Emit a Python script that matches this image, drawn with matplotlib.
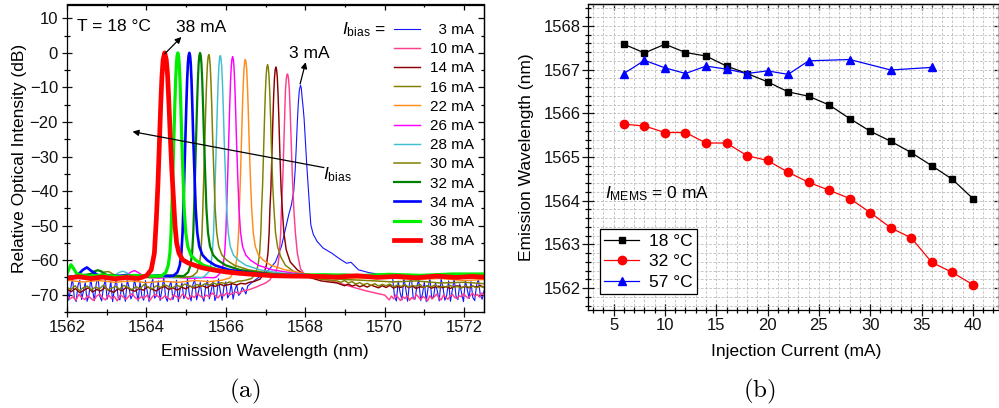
import numpy as np
import matplotlib
matplotlib.use("Agg")
import matplotlib.pyplot as plt
from matplotlib.ticker import MultipleLocator

plt.rcParams['font.family'] = ['Liberation Sans', 'DejaVu Sans']
plt.rcParams['mathtext.fontset'] = 'custom'
plt.rcParams['mathtext.rm'] = 'Liberation Sans'
plt.rcParams['mathtext.it'] = 'Liberation Sans:italic'
plt.rcParams['mathtext.bf'] = 'Liberation Sans:bold'

# ---------------- (a) optical spectra, T = 18 °C ----------------
bias_labels = ['\u20073 mA', '10 mA', '14 mA', '16 mA', '22 mA', '26 mA',
               '28 mA', '30 mA', '32 mA', '34 mA', '36 mA', '38 mA']
bias_colors = ['#1414ff', '#ff3d8e', '#8b0000', '#808000', '#ff8c1a', '#ff00ff',
               '#3fc0d0', '#808000', '#008000', '#0000ff', '#00ee00', '#ff0000']
bias_widths = [0.8, 1.05, 1.05, 1.05, 1.05, 1.05, 1.05, 1.1, 1.6, 1.9, 2.3, 3.4]

# 3 mA
db_3_left = [-66.2, -71.6, -68.4, -65.1, -70.9, -72.0, -67.3, -65.8, -71.4, -69.0,
             -66.5, -71.9, -70.2, -65.4, -68.7, -71.7, -66.9, -64.9, -70.5, -71.8,
             -67.8, -65.6, -71.3, -69.4, -66.1, -72.0, -68.1, -65.3, -70.8, -71.5,
             -66.7, -69.6, -71.9, -65.7, -67.9, -71.2, -70.0, -65.2, -68.9, -71.8,
             -66.3, -70.4, -71.6, -65.9, -69.2, -72.0, -67.1, -65.5, -71.0, -70.3,
             -66.0, -71.7, -68.6, -65.0, -70.7, -71.9, -67.6, -66.2, -71.4, -69.7,
             -65.8, -72.0, -68.3, -66.6, -71.1, -70.1, -65.3, -69.9, -71.8, -67.0,
             -65.6, -71.5, -69.3, -66.4, -70.6, -71.9, -67.4, -65.9, -71.2, -68.8,
             -66.1, -71.7, -70.4, -65.4, -69.1, -71.6, -67.7, -66.3, -70.9, -70.0,
             -66.8, -71.3, -68.5, -67.2, -70.2, -69.6, -67.9, -68.6, -69.8, -67.5]
wl_3_peak = [1566.65, 1566.8, 1566.95, 1567.08, 1567.25, 1567.4, 1567.5, 1567.58, 1567.65, 1567.71,
             1567.745, 1567.77, 1567.80, 1567.825, 1567.85, 1567.88, 1567.90, 1567.92, 1567.945, 1567.97,
             1568.0, 1568.04, 1568.08, 1568.11, 1568.14, 1568.2, 1568.3, 1568.45, 1568.67, 1568.85,
             1569.04, 1569.15, 1569.34, 1569.6, 1569.92, 1570.1]
db_3_peak = [-66.5, -65.2, -64.0, -62.8, -60.5, -56.0, -51.0, -47.0, -44.0, -40.0,
             -34.0, -28.0, -20.0, -14.5, -10.8, -9.4, -10.2, -13.0, -15.7, -19.0,
             -25.0, -33.0, -40.0, -45.0, -49.8, -52.5, -54.6, -56.5, -58.0, -59.5,
             -60.9, -60.6, -62.8, -63.6, -64.2, -64.8]
db_3_right = [-65.2, -70.6, -71.8, -66.1, -69.4, -71.5, -65.0, -68.2, -71.9, -66.8,
              -64.7, -70.9, -71.3, -67.5, -65.6, -71.7, -69.8, -66.3, -72.0, -68.0,
              -65.1, -71.2, -70.4, -66.6, -69.1, -71.8, -65.4, -67.9, -71.6, -70.2,
              -66.0, -71.9, -68.7, -65.3, -70.5, -71.4, -66.9, -69.6, -72.0, -65.8,
              -68.4, -71.1, -66.2, -70.8, -71.7, -67.3, -65.5, -70.1, -71.3, -68.9]

# 10 mA
db_10_left = [-70.3, -71.2, -70.6, -71.6, -69.9, -70.8, -71.4, -70.2, -71.0, -71.7,
              -70.4, -69.8, -70.9, -71.5, -70.1, -71.1, -70.5, -71.8, -70.0, -70.7,
              -71.3, -70.3, -69.7, -70.8, -71.4, -70.6, -71.0, -70.1, -71.6, -70.4,
              -69.9, -70.7, -71.2, -70.3, -70.9, -71.5, -70.0, -70.6, -71.1, -69.8,
              -70.5, -71.3, -70.2, -70.8, -69.6, -70.4, -71.0, -70.1, -70.6, -69.5,
              -70.2, -70.9, -69.8, -70.3, -69.4, -70.0, -69.6, -69.2, -69.7, -69.0]
wl_10_peak = [1566.6, 1566.8, 1567.0, 1567.1, 1567.15, 1567.25, 1567.31, 1567.35, 1567.38, 1567.40,
              1567.435, 1567.46, 1567.48, 1567.50, 1567.52, 1567.535, 1567.55, 1567.565, 1567.58, 1567.60,
              1567.62, 1567.645, 1567.675, 1567.71, 1567.75, 1567.80, 1567.88, 1568.0, 1568.3, 1568.6,
              1568.9, 1569.2, 1569.5, 1569.8]
db_10_peak = [-68.5, -67.6, -66.6, -65.8, -65.0, -63.8, -61.5, -58.0, -52.0, -45.0,
              -36.0, -26.0, -17.0, -11.0, -7.8, -6.5, -6.1, -6.5, -7.8, -11.0,
              -17.0, -26.0, -36.0, -45.0, -52.0, -58.0, -62.5, -64.5, -65.3, -65.8,
              -66.8, -67.8, -68.8, -69.6]
db_10_right = [-70.1, -70.8, -71.5, -70.4, -71.2, -70.0, -70.9, -71.7, -70.6, -71.1,
               -70.2, -71.6, -70.8, -71.3, -69.9, -70.7, -71.4, -70.5, -71.0, -71.8,
               -70.3, -71.2, -70.6, -69.8, -70.9, -71.5, -70.1, -70.7, -71.3, -70.4,
               -69.9, -70.8, -71.1, -70.3, -70.6, -69.7, -70.5, -71.0, -70.2, -69.6,
               -70.4, -69.9, -70.7, -69.5, -70.1]

# 14 mA
db_14_left = [-68.4, -69.1, -68.2, -69.4, -68.7, -68.0, -69.2, -68.5, -68.9, -67.9,
              -68.8, -69.3, -68.3, -68.9, -67.8, -68.6, -69.0, -68.2, -68.7, -67.7,
              -68.4, -68.9, -68.1, -67.6, -68.5, -68.0, -68.7, -67.8, -68.3, -67.5,
              -68.1, -67.7, -67.4, -68.0, -67.2, -67.6, -66.9, -67.4, -67.1, -66.8,
              -67.2, -66.7, -66.9, -66.4, -66.2]
wl_14_peak = [1566.86, 1566.96, 1567.02, 1567.06, 1567.09, 1567.11, 1567.135, 1567.16, 1567.185, 1567.205,
              1567.225, 1567.242, 1567.26, 1567.278, 1567.295, 1567.315, 1567.335, 1567.36, 1567.39, 1567.42,
              1567.46, 1567.52, 1567.62, 1567.80, 1568.05, 1568.4]
db_14_peak = [-65.5, -63.8, -61.5, -58.0, -52.0, -45.0, -39.1, -29.1, -19.1, -12.1,
              -7.1, -4.9, -4.1, -4.9, -7.1, -12.1, -19.1, -29.1, -39.1, -45.0,
              -52.0, -57.0, -60.5, -62.8, -64.8, -66.0]
db_14_right = [-66.6, -67.0, -67.4, -66.9, -67.5, -67.1, -67.7, -67.3, -67.8, -67.2,
               -67.6, -68.0, -67.4, -67.9, -67.3, -68.1, -67.6, -67.9, -67.2, -68.0,
               -67.5, -68.2, -67.7, -67.9, -67.4, -68.1, -67.8, -67.5, -68.0, -67.6,
               -68.2, -67.7, -67.4, -67.9, -67.6, -68.0, -67.5, -67.8, -67.3, -67.9]

# 16 mA
db_16_left = [-67.9, -68.5, -67.4, -68.8, -68.0, -67.5, -68.6, -67.8, -68.3, -67.2,
              -68.7, -68.1, -67.6, -68.4, -67.3, -67.9, -68.5, -67.7, -68.2, -67.0,
              -67.8, -68.3, -67.4, -67.9, -67.1, -67.6, -68.0, -67.3, -67.7, -66.9,
              -67.4, -67.8, -67.0, -67.5, -66.8, -67.2, -66.6, -67.0, -66.5, -66.8,
              -66.3, -66.6, -66.1, -66.0, -65.8]
wl_16_peak = [1566.65, 1566.75, 1566.81, 1566.85, 1566.88, 1566.90, 1566.925, 1566.95, 1566.975, 1566.995,
              1567.015, 1567.032, 1567.05, 1567.068, 1567.085, 1567.105, 1567.125, 1567.15, 1567.18, 1567.21,
              1567.25, 1567.30, 1567.38, 1567.50, 1567.70, 1568.0, 1568.4]
db_16_peak = [-65.3, -63.8, -61.5, -58.0, -52.0, -45.0, -38.4, -28.4, -18.4, -11.4,
              -6.4, -4.2, -3.4, -4.2, -6.4, -11.4, -18.4, -28.4, -38.4, -45.0,
              -52.0, -56.0, -59.0, -61.5, -63.2, -64.5, -65.5]
db_16_right = [-66.0, -66.4, -65.9, -66.6, -66.2, -66.9, -66.5, -67.1, -66.7, -67.3,
               -66.8, -67.5, -67.0, -67.4, -66.9, -67.7, -67.2, -67.6, -67.1, -67.8,
               -67.3, -67.6, -67.0, -67.9, -67.4, -67.7, -67.2, -68.0, -67.5, -67.8,
               -67.3, -67.9, -67.6, -68.1, -67.4, -67.8, -67.5, -68.0, -67.6, -67.9]

# 22 mA
wl_22 = [1562.0, 1562.4, 1562.8, 1563.2, 1563.6, 1564.0, 1564.4, 1564.8, 1565.2, 1565.6, 1565.9,
         1566.09, 1566.19, 1566.25, 1566.29, 1566.32, 1566.34, 1566.365, 1566.39, 1566.415, 1566.435,
         1566.455, 1566.472, 1566.49, 1566.508, 1566.525, 1566.545, 1566.565, 1566.59, 1566.62, 1566.65,
         1566.69, 1566.74, 1566.82, 1566.94, 1567.14, 1567.49, 1567.99, 1568.7, 1569.3, 1570.0,
         1570.7, 1571.4, 1572.0, 1572.5]
db_22 = [-65.8, -66.3, -65.9, -66.4, -66.0, -66.5, -66.1, -66.4, -65.9, -66.2, -65.8,
         -65.2, -63.8, -61.5, -58.0, -52.0, -45.0, -36.9, -26.9, -16.9, -9.9,
         -4.9, -2.7, -1.9, -2.7, -4.9, -9.9, -16.9, -26.9, -36.9, -45.0,
         -52.0, -56.0, -58.5, -60.0, -61.5, -62.8, -63.9, -64.8, -65.3, -65.0,
         -65.6, -65.3, -65.9, -65.6]

# 26 mA
wl_26 = [1562.0, 1562.5, 1563.0, 1563.45, 1563.6, 1563.7, 1563.8, 1563.95, 1564.3, 1564.7, 1565.1,
         1565.5, 1565.7, 1565.77, 1565.87, 1565.93, 1565.97, 1566.0, 1566.02, 1566.045, 1566.07,
         1566.095, 1566.115, 1566.135, 1566.152, 1566.17, 1566.188, 1566.205, 1566.225, 1566.245, 1566.27,
         1566.30, 1566.33, 1566.37, 1566.42, 1566.50, 1566.62, 1566.82, 1567.17, 1567.67, 1568.37,
         1569.0, 1569.7, 1570.4, 1571.1, 1571.8, 1572.5]
db_26 = [-65.2, -64.9, -65.3, -64.8, -63.5, -63.0, -63.6, -64.8, -65.2, -64.9, -65.3,
         -65.0, -65.1, -64.8, -63.5, -61.5, -58.0, -52.0, -45.0, -36.1, -26.1,
         -16.1, -9.1, -4.1, -1.9, -1.1, -1.9, -4.1, -9.1, -16.1, -26.1,
         -36.1, -45.0, -52.0, -56.0, -58.5, -60.0, -61.5, -62.8, -63.7, -64.5,
         -65.0, -64.7, -65.2, -64.9, -65.3, -65.0]

# 28 mA
wl_28 = [1562.0, 1562.4, 1562.8, 1563.2, 1563.3, 1563.4, 1563.5, 1563.6, 1563.9, 1564.3, 1564.7,
         1565.1, 1565.4, 1565.46, 1565.56, 1565.62, 1565.66, 1565.69, 1565.71, 1565.735, 1565.76,
         1565.785, 1565.805, 1565.825, 1565.842, 1565.86, 1565.878, 1565.895, 1565.915, 1565.935, 1565.96,
         1565.99, 1566.02, 1566.06, 1566.11, 1566.19, 1566.31, 1566.51, 1566.86, 1567.36, 1568.06,
         1568.7, 1569.4, 1570.1, 1570.8, 1571.5, 1572.5]
db_28 = [-65.0, -65.3, -64.8, -64.5, -63.6, -63.2, -63.6, -64.5, -65.0, -64.7, -65.1,
         -64.8, -65.0, -64.7, -63.5, -61.5, -58.0, -52.0, -45.0, -35.8, -25.8,
         -15.8, -8.8, -3.8, -1.6, -0.8, -1.6, -3.8, -8.8, -15.8, -25.8,
         -35.8, -45.0, -52.0, -56.0, -58.5, -60.0, -61.5, -62.8, -63.7, -64.3,
         -64.8, -64.5, -65.0, -64.7, -65.1, -64.8]

# 30 mA
wl_30 = [1562.0, 1562.3, 1562.6, 1562.85, 1562.95, 1563.05, 1563.15, 1563.35, 1563.7, 1564.1, 1564.5,
         1564.9, 1565.1, 1565.17, 1565.27, 1565.33, 1565.37, 1565.40, 1565.42, 1565.445, 1565.47,
         1565.495, 1565.515, 1565.535, 1565.552, 1565.57, 1565.588, 1565.605, 1565.625, 1565.645, 1565.67,
         1565.70, 1565.73, 1565.77, 1565.82, 1565.90, 1566.02, 1566.22, 1566.57, 1567.07, 1567.77,
         1568.4, 1569.0, 1569.6, 1570.2, 1570.8, 1571.4, 1572.0, 1572.5]
db_30 = [-65.3, -64.8, -65.2, -64.2, -63.4, -63.3, -64.0, -65.0, -64.6, -65.1, -64.7,
         -65.0, -64.8, -64.5, -63.5, -61.5, -58.0, -52.0, -45.0, -35.5, -25.5,
         -15.5, -8.5, -3.5, -1.3, -0.5, -1.3, -3.5, -8.5, -15.5, -25.5,
         -35.5, -45.0, -52.0, -56.0, -58.5, -60.0, -61.5, -62.8, -63.7, -64.6,
         -65.2, -65.6, -65.9, -66.3, -66.0, -66.6, -66.4, -66.8]

# 32 mA
wl_32 = [1562.0, 1562.3, 1562.6, 1562.7, 1562.78, 1562.87, 1563.0, 1563.4, 1563.8, 1564.2, 1564.6,
         1564.9, 1564.95, 1565.05, 1565.11, 1565.15, 1565.18, 1565.20, 1565.225, 1565.25, 1565.275,
         1565.295, 1565.315, 1565.332, 1565.35, 1565.368, 1565.385, 1565.405, 1565.425, 1565.45, 1565.48,
         1565.51, 1565.55, 1565.60, 1565.68, 1565.80, 1566.0, 1566.35, 1566.85, 1567.55, 1568.2,
         1569.0, 1569.8, 1570.6, 1571.4, 1572.5]
db_32 = [-64.8, -64.5, -64.0, -63.2, -62.9, -63.3, -64.3, -64.6, -64.3, -64.7, -64.4,
         -64.6, -64.5, -63.5, -61.5, -58.0, -52.0, -45.0, -35.0, -25.0, -15.0,
         -8.0, -3.0, -0.8, 0.0, -0.8, -3.0, -8.0, -15.0, -25.0, -35.0,
         -45.0, -52.0, -56.0, -58.5, -60.0, -61.5, -62.8, -63.7, -64.3, -64.5,
         -64.2, -64.6, -64.3, -64.6, -64.4]

# 34 mA
wl_34 = [1562.0, 1562.25, 1562.4, 1562.5, 1562.6, 1562.8, 1563.1, 1563.5, 1563.9, 1564.3, 1564.6,
         1564.68, 1564.78, 1564.84, 1564.88, 1564.91, 1564.93, 1564.955, 1564.98, 1565.005, 1565.025,
         1565.045, 1565.062, 1565.08, 1565.098, 1565.115, 1565.135, 1565.155, 1565.18, 1565.21, 1565.24,
         1565.28, 1565.33, 1565.41, 1565.53, 1565.73, 1566.08, 1566.58, 1567.28, 1568.0, 1568.8,
         1569.6, 1570.4, 1571.2, 1572.0, 1572.5]
db_34 = [-65.0, -64.5, -62.8, -62.1, -63.0, -64.5, -64.8, -64.3, -64.8, -64.4, -64.6,
         -64.5, -63.5, -61.5, -58.0, -52.0, -45.0, -35.0, -25.0, -15.0, -8.0,
         -3.0, -0.8, 0.0, -0.8, -3.0, -8.0, -15.0, -25.0, -35.0, -45.0,
         -52.0, -56.0, -58.5, -60.0, -61.5, -62.8, -63.7, -64.3, -64.3, -64.7,
         -64.4, -64.8, -64.5, -64.8, -64.6]

# 36 mA
wl_36 = [1562.0, 1562.05, 1562.1, 1562.17, 1562.25, 1562.5, 1562.9, 1563.3, 1563.7, 1564.1,
         1564.39, 1564.49, 1564.55, 1564.59, 1564.62, 1564.64, 1564.665, 1564.69, 1564.715, 1564.735,
         1564.755, 1564.772, 1564.79, 1564.808, 1564.825, 1564.845, 1564.865, 1564.89, 1564.92, 1564.95,
         1564.99, 1565.04, 1565.12, 1565.24, 1565.44, 1565.79, 1566.29, 1566.99, 1567.7, 1568.5,
         1569.3, 1570.1, 1570.9, 1571.7, 1572.5]
db_36 = [-64.0, -62.5, -61.3, -62.5, -64.0, -64.6, -64.3, -64.8, -64.4, -64.6,
         -64.5, -63.5, -61.5, -58.0, -52.0, -45.0, -35.0, -25.0, -15.0, -8.0,
         -3.0, -0.8, 0.0, -0.8, -3.0, -8.0, -15.0, -25.0, -35.0, -45.0,
         -52.0, -56.0, -58.5, -60.0, -61.5, -62.8, -63.7, -64.3, -64.4, -64.2,
         -64.5, -64.1, -64.4, -64.0, -64.0]

# 38 mA
wl_38 = [1562.0, 1562.3, 1562.6, 1562.9, 1563.2, 1563.5, 1563.8, 1564.0, 1564.12, 1564.2,
         1564.25, 1564.29, 1564.33, 1564.36, 1564.39, 1564.42, 1564.46, 1564.50, 1564.53, 1564.56,
         1564.60, 1564.64, 1564.68, 1564.72, 1564.76, 1564.82, 1564.91, 1565.05, 1565.17, 1565.4,
         1565.67, 1566.0, 1566.34, 1566.8, 1567.17, 1567.6, 1568.34, 1568.8, 1569.3, 1569.8,
         1570.3, 1570.8, 1571.3, 1571.8, 1572.2, 1572.5]
db_38 = [-65.2, -64.8, -65.3, -64.9, -65.4, -65.0, -65.3, -64.5, -62.8, -58.0,
         -48.0, -38.0, -25.0, -15.0, -7.0, -2.0, 0.0, -2.0, -6.0, -13.0,
         -24.0, -34.0, -42.0, -50.0, -55.0, -58.0, -59.9, -60.8, -61.3, -62.2,
         -62.8, -63.4, -63.8, -64.2, -64.5, -64.6, -64.7, -64.9, -64.5, -65.0,
         -64.7, -65.1, -64.6, -65.0, -64.7, -64.9]

# assemble the noisy-baseline spectra (evenly sampled OSA segments)
wl_3 = np.concatenate([np.linspace(1562.0, 1566.55, len(db_3_left)), wl_3_peak,
                       np.linspace(1570.2, 1572.5, len(db_3_right))])
db_3 = np.concatenate([db_3_left, db_3_peak, db_3_right])
wl_10 = np.concatenate([np.linspace(1562.0, 1566.4, len(db_10_left)), wl_10_peak,
                        np.linspace(1570.0, 1572.5, len(db_10_right))])
db_10 = np.concatenate([db_10_left, db_10_peak, db_10_right])
wl_14 = np.concatenate([np.linspace(1562.0, 1566.7, len(db_14_left)), wl_14_peak,
                        np.linspace(1568.8, 1572.5, len(db_14_right))])
db_14 = np.concatenate([db_14_left, db_14_peak, db_14_right])
wl_16 = np.concatenate([np.linspace(1562.0, 1566.5, len(db_16_left)), wl_16_peak,
                        np.linspace(1568.8, 1572.5, len(db_16_right))])
db_16 = np.concatenate([db_16_left, db_16_peak, db_16_right])

spectra = [(wl_3, db_3), (wl_10, db_10), (wl_14, db_14), (wl_16, db_16),
           (wl_22, db_22), (wl_26, db_26), (wl_28, db_28), (wl_30, db_30),
           (wl_32, db_32), (wl_34, db_34), (wl_36, db_36), (wl_38, db_38)]

# ---------------- (b) peak wavelength vs. injection current ----------------
current_18 = [6, 8, 10, 12, 14, 16, 18, 20, 22, 24, 26, 28, 30, 32, 34, 36, 38, 40]
peak_18 = [1567.58, 1567.38, 1567.58, 1567.39, 1567.31, 1567.08, 1566.91, 1566.72, 1566.49,
           1566.39, 1566.19, 1565.88, 1565.59, 1565.36, 1565.10, 1564.80, 1564.49, 1564.05]
current_32 = [6, 8, 10, 12, 14, 16, 18, 20, 22, 24, 26, 28, 30, 32, 34, 36, 38, 40]
peak_32 = [1565.75, 1565.71, 1565.56, 1565.56, 1565.32, 1565.32, 1565.03, 1564.92, 1564.65,
           1564.42, 1564.24, 1564.05, 1563.73, 1563.38, 1563.15, 1562.59, 1562.36, 1562.08]
current_57 = [6, 8, 10, 12, 14, 16, 18, 20, 22, 24, 28, 32, 36]
peak_57 = [1566.91, 1567.21, 1567.04, 1566.91, 1567.08, 1567.01, 1566.91, 1566.97, 1566.89,
           1567.20, 1567.23, 1566.99, 1567.05]

FS = 12.5
TICK_FS = 12

fig = plt.figure(figsize=(9.99, 4.08), dpi=100)
axA = fig.add_axes([67 / 999, 1 - 312 / 408, 417 / 999, 307.5 / 408])
axB = fig.add_axes([588 / 999, 1 - 310 / 408, 410.5 / 999, 306 / 408])


def frame_ticks(ax, xmaj, xmin, ymaj, ymin, out_len, ypad):
    ax.xaxis.set_major_locator(MultipleLocator(xmaj))
    ax.xaxis.set_minor_locator(MultipleLocator(xmin))
    ax.yaxis.set_major_locator(MultipleLocator(ymaj))
    ax.yaxis.set_minor_locator(MultipleLocator(ymin))
    ax.tick_params(which='major', direction='inout', length=out_len, width=0.9,
                   labelsize=TICK_FS, colors='#111111')
    ax.tick_params(which='minor', direction='inout', length=out_len * 0.55, width=0.9)
    ax.tick_params(axis='x', pad=2)
    ax.tick_params(axis='y', pad=ypad)
    for sp in ax.spines.values():
        sp.set_linewidth(0.9)
    top = ax.secondary_xaxis('top')
    top.xaxis.set_major_locator(MultipleLocator(xmaj))
    top.xaxis.set_minor_locator(MultipleLocator(xmin))
    top.tick_params(which='major', direction='in', length=4, width=0.9, labeltop=False)
    top.tick_params(which='minor', direction='in', length=2.5, width=0.9)
    right = ax.secondary_yaxis('right')
    right.yaxis.set_major_locator(MultipleLocator(ymaj))
    right.yaxis.set_minor_locator(MultipleLocator(ymin))
    right.tick_params(which='major', direction='in', length=4, width=0.9, labelright=False)
    right.tick_params(which='minor', direction='in', length=2.5, width=0.9)
    for s in (top, right):
        for sp in s.spines.values():
            sp.set_linewidth(0.9)


# ---- panel (a) ----
lines = []
for (wl, db), col, lw in zip(spectra, bias_colors, bias_widths):
    ln, = axA.plot(wl, db, color=col, lw=lw, solid_joinstyle='round')
    lines.append(ln)

axA.set_xlim(1562, 1572.5)
axA.set_ylim(-75, 14)
frame_ticks(axA, 2, 1, 10, 5, 7, 3)

leg = axA.legend(lines, bias_labels, loc='upper right', bbox_to_anchor=(0.975, 0.94),
                 frameon=False, fontsize=11, handlelength=1.7, handletextpad=0.6,
                 labelspacing=0.34, borderpad=0, borderaxespad=0)
axA.text(1568.92, 6.6, r'$I_{\mathrm{bias}}$ =', fontsize=FS, ha='left', va='center')

axA.text(1562.24, 7.6, 'T = 18 °C', fontsize=FS, ha='left', va='center')
axA.text(1564.75, 7.4, '38 mA', fontsize=FS, ha='left', va='center')
axA.annotate('', xy=(1564.88, 4.6), xytext=(1564.46, -0.3),
             arrowprops=dict(arrowstyle='-|>', color='k', lw=0.9, mutation_scale=9,
                             shrinkA=0, shrinkB=0))
axA.text(1568.11, -0.3, '3 mA', fontsize=FS, ha='center', va='center')
axA.annotate('', xy=(1568.01, -2.7), xytext=(1567.87, -9.0),
             arrowprops=dict(arrowstyle='-|>', color='k', lw=0.9, mutation_scale=9,
                             shrinkA=0, shrinkB=0))
axA.annotate('', xy=(1563.65, -22.8), xytext=(1568.47, -33.2),
             arrowprops=dict(arrowstyle='-|>', color='k', lw=0.9, mutation_scale=9,
                             shrinkA=0, shrinkB=0))
axA.text(1568.45, -35.3, r'$I_{\mathrm{bias}}$', fontsize=FS, ha='left', va='center')

fig.text(265 / 999, 1 - 351.5 / 408, 'Emission Wavelength (nm)', fontsize=FS,
         ha='center', va='center')
fig.text(20 / 999, 1 - 158 / 408, 'Relative Optical Intensity (dB)', fontsize=FS,
         ha='center', va='center', rotation=90)

# ---- panel (b) ----
axB.set_axisbelow(True)
axB.grid(True, which='both', color='#bcbcbc', ls=(0, (3, 2)), lw=0.6)
axB.plot(current_18, peak_18, '-s', color='black', lw=0.9, ms=5, label='18 °C')
axB.plot(current_32, peak_32, '-o', color='#ff0000', lw=0.9, ms=6, label='32 °C')
axB.plot(current_57, peak_57, '-^', color='#0000ff', lw=0.9, ms=6.3, label='57 °C')
axB.set_xlim(2.5, 42.5)
axB.set_ylim(1561.5, 1568.5)
frame_ticks(axB, 5, 1, 1, 0.2, 8, 1)
axB.yaxis.set_major_formatter(plt.FuncFormatter(lambda v, p: f'{v:.0f}'))

legB = axB.legend(loc='lower left', bbox_to_anchor=(12 / 410.5, 16 / 306), fontsize=FS,
                  frameon=True, fancybox=False, framealpha=1, edgecolor='black',
                  handlelength=2.0, handletextpad=0.6, labelspacing=0.3,
                  borderpad=0.25, borderaxespad=0)
legB.get_frame().set_linewidth(0.9)

axB.text(4.16, 1564.16, r'$I_{\mathrm{MEMS}}$ = 0 mA', fontsize=FS, ha='left', va='center')

fig.text(796 / 999, 1 - 351.5 / 408, 'Injection Current (mA)', fontsize=FS,
         ha='center', va='center')
fig.text(527 / 999, 1 - 157 / 408, 'Emission Wavelength (nm)', fontsize=FS,
         ha='center', va='center', rotation=90)

# sub-figure captions
fig.text(245 / 999, 1 - 391 / 408, r'$\mathrm{(a)}$', fontsize=18, ha='center',
         va='center', math_fontfamily='cm')
fig.text(759 / 999, 1 - 391 / 408, r'$\mathrm{(b)}$', fontsize=18, ha='center',
         va='center', math_fontfamily='cm')

fig.savefig('out.png', dpi=100)
